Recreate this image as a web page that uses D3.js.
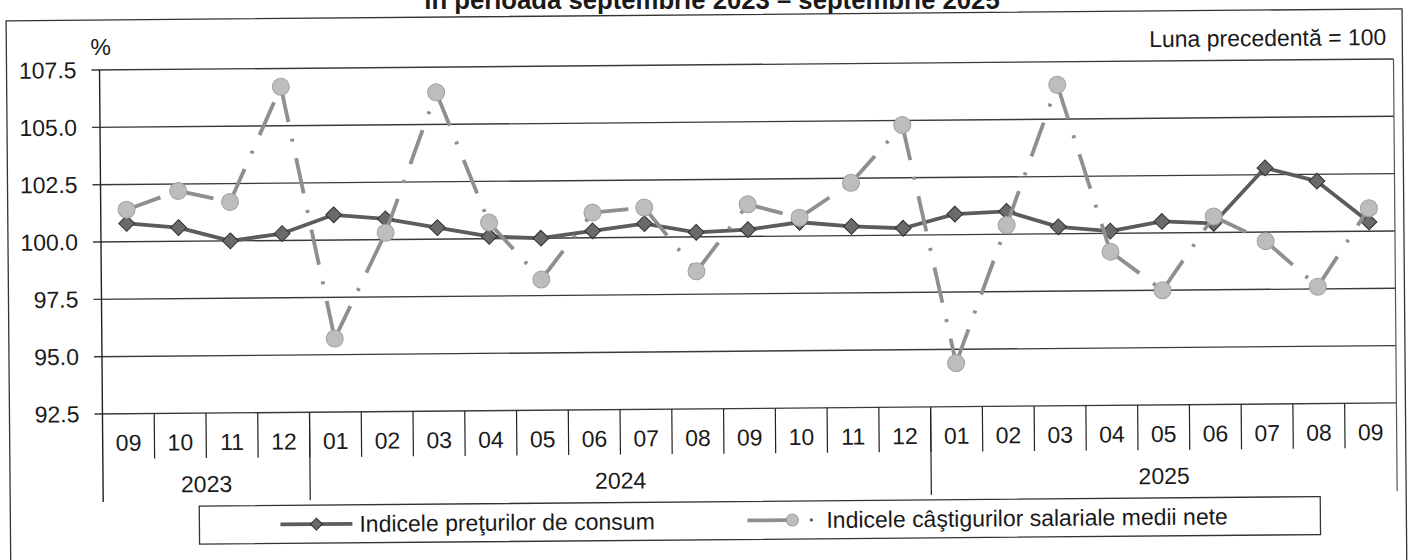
<!DOCTYPE html>
<html>
<head>
<meta charset="utf-8">
<script src="https://cdn.jsdelivr.net/npm/d3@7"></script>
<style>
  html, body { margin: 0; padding: 0; background: #ffffff; }
  svg { display: block; }
  text { font-family: "Liberation Sans", Arial, sans-serif; fill: #1a1a1a; }
</style>
</head>
<body>
<svg id="chart" width="1412" height="560"></svg>
<script>
// ---- data ----
const months = ["09","10","11","12","01","02","03","04","05","06","07","08","09","10","11","12","01","02","03","04","05","06","07","08","09"];
const years = ["2023","2024","2025"];
const yearSpans = [4, 12, 9];
const cpi = [100.8,100.6,100.0,100.3,101.1,100.9,100.5,100.1,100.0,100.3,100.6,100.2,100.3,100.6,100.4,100.3,100.9,101.0,100.3,100.1,100.5,100.4,102.8,102.2,100.4];
const wages = [101.4,102.2,101.7,106.7,95.7,100.3,106.4,100.7,98.2,101.1,101.3,98.5,101.4,100.8,102.3,104.8,94.4,100.4,106.5,99.2,97.5,100.7,99.6,97.6,101.0];
const yTicks = [92.5, 95.0, 97.5, 100.0, 102.5, 105.0, 107.5];
const seriesNames = ["Indicele preţurilor de consum", "Indicele câştigurilor salariale medii nete"];
const titleText = "în perioada septembrie 2023 – septembrie 2025";
const unitText = "%";
const baseText = "Luna precedentă = 100";

// ---- layout ----
const FS = "23px";
const svg = d3.select("#chart");
const L = 101, R = 1395, T = 70, B = 414;
const x = d3.scaleBand().domain(d3.range(months.length)).range([L, R]).padding(0);
const y = d3.scaleLinear().domain([92.5, 107.5]).range([B, T]);
const cx = i => x(i) + x.bandwidth() / 2;

const title = svg.append("text").attr("x", 712).attr("y", 9).attr("text-anchor", "middle")
  .style("font-size", "24px").style("font-weight", "bold").text(titleText);
const tw = title.node().getComputedTextLength();
if (tw > 0) title.style("font-size", (24 * 575 / tw).toFixed(1) + "px");

// scanned page is slightly rotated
const g = svg.append("g").attr("transform", "rotate(-0.49, 100, 243)");

// outer frame
g.append("rect").attr("x", 8).attr("y", 20).attr("width", 1396).attr("height", 600)
  .attr("fill", "none").attr("stroke", "#333").attr("stroke-width", 1.3);

// gridlines
g.selectAll("line.grid").data(yTicks).join("line")
  .attr("x1", L - 8).attr("x2", R).attr("y1", d => y(d)).attr("y2", d => y(d))
  .attr("stroke", "#3a3a3a").attr("stroke-width", 1.4);

// y labels
g.selectAll("text.yl").data(yTicks).join("text")
  .attr("x", 78).attr("y", d => y(d) + 8).attr("text-anchor", "end")
  .style("font-size", FS).text(d => d.toFixed(1));

g.append("text").attr("x", 92).attr("y", 55).style("font-size", FS).text(unitText);
g.append("text").attr("x", 1388).attr("y", 56).attr("text-anchor", "end").style("font-size", FS).text(baseText);

// axes verticals
g.append("line").attr("x1", L).attr("x2", L).attr("y1", T).attr("y2", 502).attr("stroke", "#222").attr("stroke-width", 1.4);
g.append("line").attr("x1", R).attr("x2", R).attr("y1", T).attr("y2", 502).attr("stroke", "#555").attr("stroke-width", 1.2);

// month separators
g.selectAll("line.ms").data(d3.range(1, months.length)).join("line")
  .attr("x1", d => x(d)).attr("x2", d => x(d)).attr("y1", B).attr("y2", 459)
  .attr("stroke", "#222").attr("stroke-width", 1.2);

// year separators
const yearStarts = yearSpans.map((s, i) => d3.sum(yearSpans.slice(0, i)));
g.selectAll("line.ys").data(yearStarts.slice(1)).join("line")
  .attr("x1", d => x(d)).attr("x2", d => x(d)).attr("y1", B).attr("y2", 502)
  .attr("stroke", "#222").attr("stroke-width", 1.2);

// month labels
g.selectAll("text.ml").data(months).join("text")
  .attr("x", (d, i) => cx(i)).attr("y", 451).attr("text-anchor", "middle")
  .style("font-size", FS).text(d => d);

// year labels
g.selectAll("text.yr").data(years).join("text")
  .attr("x", (d, i) => (x(yearStarts[i]) + x(yearStarts[i] + yearSpans[i] - 1) + x.bandwidth()) / 2)
  .attr("y", 493).attr("text-anchor", "middle").style("font-size", FS).text(d => d);

// CPI line
const line = d3.line().x((d, i) => cx(i)).y(d => y(d));
g.append("path").datum(cpi).attr("d", line).attr("fill", "none")
  .attr("stroke", "#5c5c5c").attr("stroke-width", 3.8).attr("stroke-linejoin", "round");
const diamond = d3.symbol().type(d3.symbolDiamond2).size(160);
g.selectAll("path.cpim").data(cpi).join("path")
  .attr("transform", (d, i) => `translate(${cx(i)},${y(d)})`)
  .attr("d", diamond).attr("fill", "#6a6a6a").attr("stroke", "#2e2e2e").attr("stroke-width", 1);

// wage segments (dash-dot, pattern restarting per segment)
const dash = "36,17,3,17";
g.selectAll("line.ws").data(d3.range(wages.length - 1)).join("line")
  .attr("x1", i => cx(i)).attr("y1", i => y(wages[i]))
  .attr("x2", i => cx(i + 1)).attr("y2", i => y(wages[i + 1]))
  .attr("stroke", "#8f8f8f").attr("stroke-width", 3.8).attr("stroke-dasharray", dash);
g.selectAll("circle.wm").data(wages).join("circle")
  .attr("cx", (d, i) => cx(i)).attr("cy", d => y(d)).attr("r", 8.5)
  .attr("fill", "#bdbdbd").attr("stroke", "#a0a0a0").attr("stroke-width", 1);

// legend
g.append("rect").attr("x", 197).attr("y", 507).attr("width", 1121).attr("height", 38)
  .attr("fill", "#fff").attr("stroke", "#333").attr("stroke-width", 1.3);
const ly = 526;
g.append("line").attr("x1", 278).attr("x2", 350).attr("y1", ly).attr("y2", ly)
  .attr("stroke", "#5c5c5c").attr("stroke-width", 3.8);
g.append("path").attr("transform", `translate(314,${ly})`).attr("d", d3.symbol().type(d3.symbolDiamond2).size(90))
  .attr("fill", "#6a6a6a").attr("stroke", "#2e2e2e");
g.append("text").attr("x", 357).attr("y", ly + 8).style("font-size", FS).text(seriesNames[0]);

g.append("line").attr("x1", 745).attr("x2", 785).attr("y1", ly).attr("y2", ly)
  .attr("stroke", "#8f8f8f").attr("stroke-width", 3.8);
g.append("circle").attr("cx", 790).attr("cy", ly).attr("r", 6)
  .attr("fill", "#bdbdbd").attr("stroke", "#a0a0a0");
g.append("circle").attr("cx", 809).attr("cy", ly).attr("r", 1.6).attr("fill", "#555");
g.append("text").attr("x", 824).attr("y", ly + 8).style("font-size", FS).text(seriesNames[1]);
</script>
</body>
</html>
